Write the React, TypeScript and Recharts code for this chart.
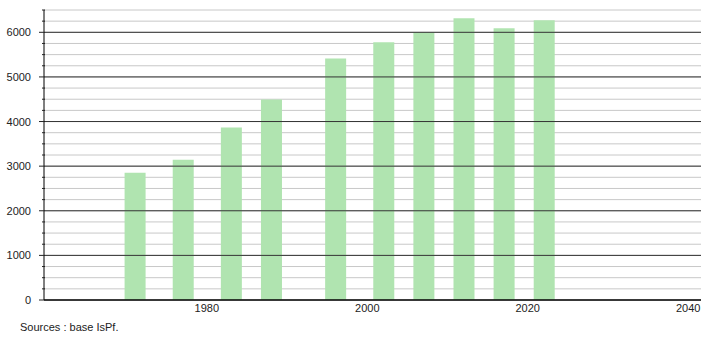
import { BarChart, Bar, XAxis, YAxis, CartesianGrid, ReferenceLine } from 'recharts';

const years = [1971, 1977, 1983, 1988, 1996, 2002, 2007, 2012, 2017, 2022];
const population = [2850, 3145, 3865, 4495, 5415, 5775, 6000, 6315, 6090, 6270];
const xTicks = [1980, 2000, 2020, 2040];
const yTicks = [0, 250, 500, 750, 1000, 1250, 1500, 1750, 2000, 2250, 2500, 2750, 3000, 3250, 3500, 3750, 4000, 4250, 4500, 4750, 5000, 5250, 5500, 5750, 6000, 6250, 6500];
const majorTicks = [1000, 2000, 3000, 4000, 5000, 6000];

const data = years.map((year, i) => ({ year, pop: population[i] }));

const font = '"Liberation Sans", Arial, sans-serif';

const YTick = (props: any) => {
    const { x, y, payload } = props;
    const v = payload.value;
    const major = v % 1000 === 0;
    return (
        <g>
            {major ? (
                <>
                    <line x1={x - 5} y1={y} x2={x} y2={y} stroke="#222" strokeWidth={1} />
                    <text x={x - 13} y={y} dy={4} textAnchor="end" fontSize={11} fontFamily={font} fill="#222">{v}</text>
                </>
            ) : (
                <line x1={x - 2} y1={y} x2={x + 1} y2={y} stroke="#222" strokeWidth={1} />
            )}
        </g>
    );
};

const XTick = (props: any) => {
    const { x, y, payload } = props;
    return (
        <text x={x} y={y + 12} textAnchor="middle" fontSize={11} fontFamily={font} fill="#222">{payload.value}</text>
    );
};

const App = () => {
    return (
        <div style={{ position: 'absolute', left: 0, top: 0, width: 710, height: 340, background: '#fff' }}>
            <BarChart width={710} height={340} data={data} margin={{ top: 10, right: 9, left: 0, bottom: 0 }}>
                <CartesianGrid vertical={false} stroke="#c8c8c8" strokeWidth={1} />
                {majorTicks.map((t) => (
                    <ReferenceLine key={t} y={t} stroke="#333" strokeWidth={1} />
                ))}
                <XAxis
                    dataKey="year"
                    type="number"
                    domain={[1959.7, 2041.6]}
                    ticks={xTicks}
                    interval={0}
                    height={40}
                    tickLine={false}
                    tickSize={0}
                    tickMargin={0}
                    axisLine={{ stroke: '#000', strokeWidth: 1 }}
                    tick={<XTick />}
                    allowDataOverflow
                />
                <YAxis
                    type="number"
                    domain={[0, 6500]}
                    ticks={yTicks}
                    interval={0}
                    width={44}
                    tickLine={false}
                    tickSize={0}
                    tickMargin={0}
                    axisLine={{ stroke: '#000', strokeWidth: 1 }}
                    tick={<YTick />}
                />
                <Bar dataKey="pop" fill="#b0e4b0" barSize={21} isAnimationActive={false} />
                <ReferenceLine y={0} stroke="#000" strokeWidth={1} segment={[{ x: 1959.2, y: 0 }, { x: 2041.6, y: 0 }]} ifOverflow="visible" />
            </BarChart>
            <div style={{ position: 'absolute', left: 20, top: 321, fontFamily: font, fontSize: 11, color: '#222' }}>
                Sources : base IsPf.
            </div>
        </div>
    );
};

export default App;
